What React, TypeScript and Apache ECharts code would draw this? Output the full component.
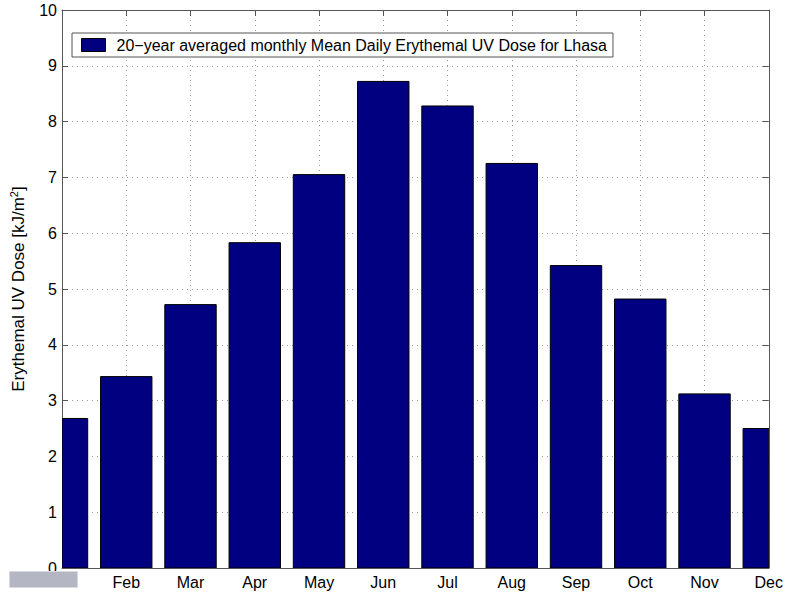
import React, { useEffect, useRef } from "react";
import * as echarts from "echarts";

const months = ["Jan", "Feb", "Mar", "Apr", "May", "Jun", "Jul", "Aug", "Sep", "Oct", "Nov", "Dec"];
const doseValues = [2.68, 3.43, 4.72, 5.83, 7.05, 8.72, 8.28, 7.25, 5.42, 4.82, 3.12, 2.5];
const seriesName = "20\u2212year averaged monthly Mean Daily Erythemal UV Dose for Lhasa";

const FONT = "'Liberation Sans', Arial, Helvetica, sans-serif";
const AXIS_COLOR = "#555555";
const BAR_FILL = "#000080";
const GRID_DOT = { color: "#9a9a9a", width: 1, type: [1, 4] as number[] };

export default function App() {
  const ref = useRef<HTMLDivElement>(null);

  useEffect(() => {
    if (!ref.current) return;
    const chart = echarts.init(ref.current, undefined, { renderer: "svg" });
    const data = months.map((_, i) => [i + 1, doseValues[i]]);

    // Bars are drawn through a custom series so that the edge months are
    // clipped at the plot box, as the axis runs from bar centre to bar centre.
    const renderBar = (params: any, api: any) => {
      const x = api.value(0);
      const y = api.value(1);
      const top = api.coord([x, y]);
      const base = api.coord([x, 0]);
      const w = api.size([0.8, 0])[0];
      const cs = params.coordSys;
      const rect = echarts.graphic.clipRectByRect(
        { x: top[0] - w / 2, y: top[1], width: w, height: base[1] - top[1] },
        { x: cs.x, y: cs.y, width: cs.width, height: cs.height }
      );
      if (!rect) return null;
      return {
        type: "rect",
        shape: rect,
        style: { fill: BAR_FILL, stroke: "#000000", lineWidth: 1 },
      };
    };

    chart.setOption({
      animation: false,
      backgroundColor: "#ffffff",
      textStyle: { fontFamily: FONT },
      grid: { left: 62, right: 16, top: 10, bottom: 26, containLabel: false },
      legend: {
        data: [{ name: seriesName, icon: "rect" }],
        left: 72,
        top: 33,
        orient: "vertical",
        backgroundColor: "#ffffff",
        borderColor: AXIS_COLOR,
        borderWidth: 1,
        padding: [4, 6, 4, 9],
        itemWidth: 24,
        itemHeight: 13,
        itemStyle: { color: BAR_FILL, borderColor: "#000000", borderWidth: 1 },
        textStyle: { fontSize: 16, color: "#000", fontFamily: FONT, padding: [0, 0, 0, 6] },
        selectedMode: false,
      },
      xAxis: [
        {
          type: "value",
          min: 1,
          max: 12,
          interval: 1,
          position: "bottom",
          axisLine: { show: true, onZero: false, lineStyle: { color: AXIS_COLOR, width: 1 } },
          axisTick: { show: true, inside: true, length: 6, lineStyle: { color: AXIS_COLOR } },
          axisLabel: {
            show: true,
            showMinLabel: true,
            showMaxLabel: true,
            margin: 6,
            fontSize: 16,
            color: "#000",
            fontFamily: FONT,
            formatter: (v: number) => months[Math.round(v) - 1] ?? "",
          },
          splitLine: { show: true, lineStyle: GRID_DOT },
        },
        {
          type: "value",
          min: 1,
          max: 12,
          interval: 1,
          position: "top",
          axisLine: { show: true, onZero: false, lineStyle: { color: AXIS_COLOR, width: 1 } },
          axisTick: { show: true, inside: true, length: 6, lineStyle: { color: AXIS_COLOR } },
          axisLabel: { show: false },
          splitLine: { show: false },
        },
      ],
      yAxis: [
        {
          type: "value",
          min: 0,
          max: 10,
          interval: 1,
          position: "left",
          name: "{n|Erythemal UV Dose [kJ/m}{s|2}{n|]}",
          nameLocation: "middle",
          nameGap: 34,
          nameTextStyle: {
            rich: {
              n: { fontSize: 17, color: "#000", fontFamily: FONT },
              s: { fontSize: 11, color: "#000", fontFamily: FONT, verticalAlign: "bottom", padding: [0, 0, 9, 0] },
            },
          },
          axisLine: { show: true, onZero: false, lineStyle: { color: AXIS_COLOR, width: 1 } },
          axisTick: { show: true, inside: true, length: 6, lineStyle: { color: AXIS_COLOR } },
          axisLabel: { fontSize: 16, color: "#000", fontFamily: FONT, margin: 5 },
          splitLine: { show: true, lineStyle: GRID_DOT },
        },
        {
          type: "value",
          min: 0,
          max: 10,
          interval: 1,
          position: "right",
          axisLine: { show: true, onZero: false, lineStyle: { color: AXIS_COLOR, width: 1 } },
          axisTick: { show: true, inside: true, length: 6, lineStyle: { color: AXIS_COLOR } },
          axisLabel: { show: false },
          splitLine: { show: false },
        },
      ],
      series: [
        {
          name: seriesName,
          type: "custom",
          xAxisIndex: 0,
          yAxisIndex: 0,
          data,
          encode: { x: 0, y: 1 },
          renderItem: renderBar,
          clip: true,
          itemStyle: { color: BAR_FILL, borderColor: "#000000", borderWidth: 1 },
          z: 3,
        },
      ],
      graphic: [
        {
          type: "rect",
          left: 9,
          top: 571,
          z: 100,
          shape: { width: 68, height: 16 },
          style: { fill: "#b4b6c4", stroke: "#d8d8e0", lineWidth: 1 },
        },
      ],
    });

    return () => chart.dispose();
  }, []);

  return (
    <div
      ref={ref}
      style={{ position: "absolute", left: 0, top: 0, width: 786, height: 594 }}
    />
  );
}
